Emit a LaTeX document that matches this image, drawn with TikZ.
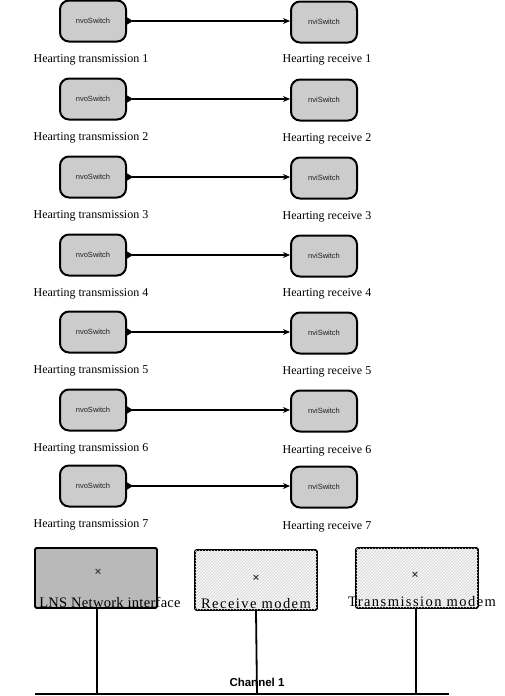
\documentclass[tikz,border=0pt]{standalone}
\usepackage{fontspec}
\setmainfont{Liberation Serif}
\setsansfont{Liberation Sans}
\usetikzlibrary{arrows.meta,patterns}
\tikzset{
  sw/.style={draw=black, line width=2pt, rounded corners=9pt, fill=gray!40,
    minimum width=66pt, minimum height=41pt, inner sep=0pt,
    font=\sffamily\fontsize{7.5}{8}\selectfont, text=gray!25!black},
  lbl/.style={font=\fontsize{12}{13}\selectfont, inner sep=0pt},
  blbl/.style={font=\fontsize{14.5}{15}\selectfont, inner sep=0pt},
  conn/.style={line width=1.1pt, {Triangle[reversed,length=6pt,width=7pt]}-{Stealth[length=7pt,width=6pt]}},
  dev/.style={draw=black, line width=1.8pt, rounded corners=1.5pt, minimum width=122pt, minimum height=60pt, inner sep=0pt},
  bus/.style={line width=1.8pt},
  xm/.style={font=\sffamily\bfseries\fontsize{11}{11}\selectfont, text=black!75, inner sep=0pt}
}
\begin{document}
\begin{tikzpicture}[x=1pt,y=-1pt]
\useasboundingbox (0,0) rectangle (505,696);
\foreach \i/\y/\ry in {1/21/60, 2/99/139, 3/177/217, 4/255/294, 5/332/372, 6/410/451, 7/486/527}{
  \node[sw] (l\i) at (93,\y) {nvoSwitch};
  \node[sw] (r\i) at (324,\y+1) {nviSwitch};
  \node[lbl] (lt\i) at (91,\y+39) {Hearting transmission \i};
  \node[lbl] (rt\i) at (327,\ry) {Hearting receive \i};
  \draw[conn] (l\i.east) -- (l\i.east -| r\i.west);
}
% bottom devices
\node[dev, fill=gray!55] (d1) at (96,578) {};
\node[dev, fill=gray!6, postaction={pattern=north east lines, pattern color=gray!35}] (d2) at (256,580) {};
\node[dev, fill=gray!6, postaction={pattern=north east lines, pattern color=gray!35}] (d3) at (417,578) {};
\node[xm] (x1) at (98,572) {×};
\node[xm] (x2) at (256,578) {×};
\node[xm] (x3) at (415,575) {×};
\node[blbl] (n1) at (110,602) {\addfontfeature{LetterSpace=2}LNS Network interface};
\node[blbl] (n2) at (256,604) {\addfontfeature{LetterSpace=10}Receive modem};
\node[blbl] (n3) at (422,602) {\addfontfeature{LetterSpace=10}Transmission modem};
\coordinate (bl) at (35,694);
\coordinate (br) at (449,694);
\draw[bus] (bl) -- (br);
\draw[bus] (d1.south -| 97,0) -- (97,694);
\draw[bus] (d2.south) -- (257,694);
\draw[bus] (d3.south -| 416,0) -- (416,694);
\node[font=\sffamily\bfseries\fontsize{11.5}{12}\selectfont, inner sep=0pt] (ch) at (257,682) {Channel 1};
\end{tikzpicture}
\end{document}
